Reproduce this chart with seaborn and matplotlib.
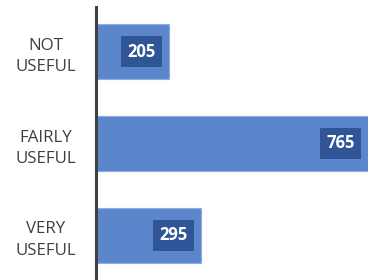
import matplotlib
matplotlib.use("Agg")
import matplotlib.pyplot as plt
import seaborn as sns
import pandas as pd

categories = ["NOT\nUSEFUL", "FAIRLY\nUSEFUL", "VERY\nUSEFUL"]
values = [205, 765, 295]

sns.set_style("white")
plt.rcParams['font.family'] = ['Open Sans', 'DejaVu Sans']

df = pd.DataFrame({"category": categories, "value": values})

fig = plt.figure(figsize=(3.68, 2.8), dpi=100)
ax = fig.add_axes([96/368, 0, 1 - 96/368, 273/280])

sns.barplot(data=df, x="value", y="category", orient="h", color="#5B86CC",
            saturation=1, width=0.6, edgecolor="#8EACDD", linewidth=0.8, ax=ax)

ax.set_xlim(0, 765)
ax.set_ylim(2.484, -0.484)
ax.set_xlabel("")
ax.set_ylabel("")
ax.set_xticks([])
for s in ["top", "right", "bottom"]:
    ax.spines[s].set_visible(False)
ax.spines["left"].set_color("#404040")
ax.spines["left"].set_linewidth(2.2)
ax.tick_params(axis="y", length=0, pad=36, labelsize=12.2, labelcolor="#404040")
for lab in ax.get_yticklabels():
    lab.set_horizontalalignment("center")
    lab.set_multialignment("center")
    lab.set_linespacing(1.45)

for i, v in enumerate(values):
    ax.annotate(str(v), xy=(v, i), xytext=(-9.5, 0), textcoords="offset points",
                ha="right", va="center", color="white", fontweight="bold",
                fontsize=12,
                bbox=dict(boxstyle="square,pad=0.4", fc="#2F5597", ec="none"))

fig.savefig("out.png", dpi=100)
